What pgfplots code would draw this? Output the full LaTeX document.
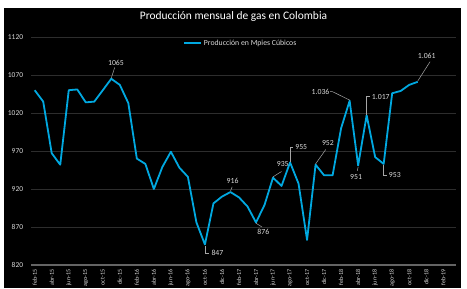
\documentclass[border=0pt]{standalone}
\usepackage{fontspec}
\setmainfont{Carlito}
\usepackage{pgfplots}
\pgfplotsset{compat=1.18}
\definecolor{lineblue}{RGB}{0,168,224}
\definecolor{gridc}{RGB}{45,45,45}
\definecolor{axc}{RGB}{100,100,100}
\definecolor{txt}{RGB}{217,217,217}
\definecolor{lead}{RGB}{166,166,166}
\begin{document}
\begin{tikzpicture}[x=1bp,y=1bp]
\useasboundingbox (0,0) rectangle (467,288);
\fill[white] (0,0) rectangle (467,288);
\fill[black] (4,0) rectangle (461,280);
\node[text=white, font=\fontsize{11.5}{13}\selectfont, inner sep=0pt] at (233.5,271) {Producción mensual de gas en Colombia};
\begin{axis}[
  at={(31.3bp,23bp)}, anchor=south west,
  scale only axis, width=424.7bp, height=228bp,
  xmin=-0.4, xmax=49.5, ymin=820, ymax=1120,
  ytick={820,870,...,1120},
  xtick={0,2,...,48},
  xticklabels={feb-15,abr-15,jun-15,ago-15,oct-15,dic-15,feb-16,abr-16,jun-16,ago-16,oct-16,dic-16,feb-17,abr-17,jun-17,ago-17,oct-17,dic-17,feb-18,abr-18,jun-18,ago-18,oct-18,dic-18,feb-19},
  axis x line*=bottom, axis y line*=left,
  axis line style={-},
  x axis line style={draw=axc, line width=1.2bp},
  y axis line style={draw=none},
  major tick length=0pt,
  ymajorgrids, grid style={gridc, line width=0.8bp},
  /pgf/number format/assume math mode=true,
  /pgf/number format/1000 sep={},
  tick label style={text=txt},
  yticklabel style={font=\fontsize{7.5}{9}\selectfont, inner sep=0pt, xshift=-8bp},
  xticklabel style={font=\fontsize{6.1}{7}\selectfont, inner sep=0pt, yshift=-4.5bp, rotate=90, anchor=east},
  legend style={at={(0.357,0.972)}, anchor=west, draw=none, fill=none, text=txt, font=\fontsize{7.8}{9}\selectfont, inner sep=0pt},
  legend cell align=left,
  legend image code/.code={\draw[#1] (0bp,0bp) -- (17bp,0bp);},
]
\addplot[lineblue, line width=1.8bp, mark=none, line join=round] coordinates {
(0,1050)(1,1035)(2,967)(3,952)(4,1050)(5,1051)(6,1034)(7,1035)(8,1050)(9,1065)(10,1057)(11,1033)(12,960)(13,953)(14,920)(15,949)(16,969)(17,948)(18,936)(19,876)(20,847)(21,901)(22,910)(23,916)(24,909)(25,897)(26,876)(27,899)(28,935)(29,924)(30,955)(31,927)(32,853)(33,952)(34,938)(35,938)(36,1000)(37,1036)(38,951)(39,1017)(40,962)(41,953)(42,1046)(43,1049)(44,1057)(45,1061)
};
\addlegendentry{Producción en Mpies Cúbicos}
\begin{scope}[every node/.style={text=txt, font=\fontsize{7.8}{9}\selectfont, inner sep=0pt}]
\draw[lead, line width=0.5bp] (axis cs:9,1066) -- (axis cs:9.4,1080);
\node at (axis cs:9.55,1086.5) {1065};
\draw[lead, line width=0.5bp] (axis cs:20,845) -- (axis cs:20,836) -- (axis cs:20.5,836);
\node[anchor=west] at (axis cs:20.75,836) {847};
\draw[lead, line width=0.5bp] (axis cs:23,917) -- (axis cs:23.2,923);
\node at (axis cs:23.25,931) {916};
\draw[lead, line width=0.5bp] (axis cs:26,875) -- (axis cs:26.7,870);
\node at (axis cs:26.86,863) {876};
\draw[lead, line width=0.5bp] (axis cs:28,936) -- (axis cs:29,943);
\node at (axis cs:29.14,953) {935};
\draw[lead, line width=0.5bp] (axis cs:30,956) -- (axis cs:30,975) -- (axis cs:30.35,975);
\node[anchor=west] at (axis cs:30.6,975) {955};
\draw[lead, line width=0.5bp] (axis cs:33,953) -- (axis cs:34.2,972);
\node at (axis cs:34.45,980) {952};
\draw[lead, line width=0.5bp] (axis cs:37,1037) -- (axis cs:35.0,1048) -- (axis cs:34.7,1048);
\node[anchor=east] at (axis cs:34.65,1048) {1.036};
\draw[lead, line width=0.5bp] (axis cs:38,949) -- (axis cs:37.9,944);
\node at (axis cs:37.76,936) {951};
\draw[lead, line width=0.5bp] (axis cs:39,1018) -- (axis cs:39,1041.5) -- (axis cs:39.4,1041.5);
\node[anchor=west] at (axis cs:39.6,1041.5) {1.017};
\draw[lead, line width=0.5bp] (axis cs:41,952) -- (axis cs:41,938.5) -- (axis cs:41.4,938.5);
\node[anchor=west] at (axis cs:41.6,938.5) {953};
\draw[lead, line width=0.5bp] (axis cs:45,1062) -- (axis cs:46.45,1087.5);
\node at (axis cs:46.06,1095.4) {1.061};
\end{scope}
\end{axis}
\end{tikzpicture}
\end{document}
